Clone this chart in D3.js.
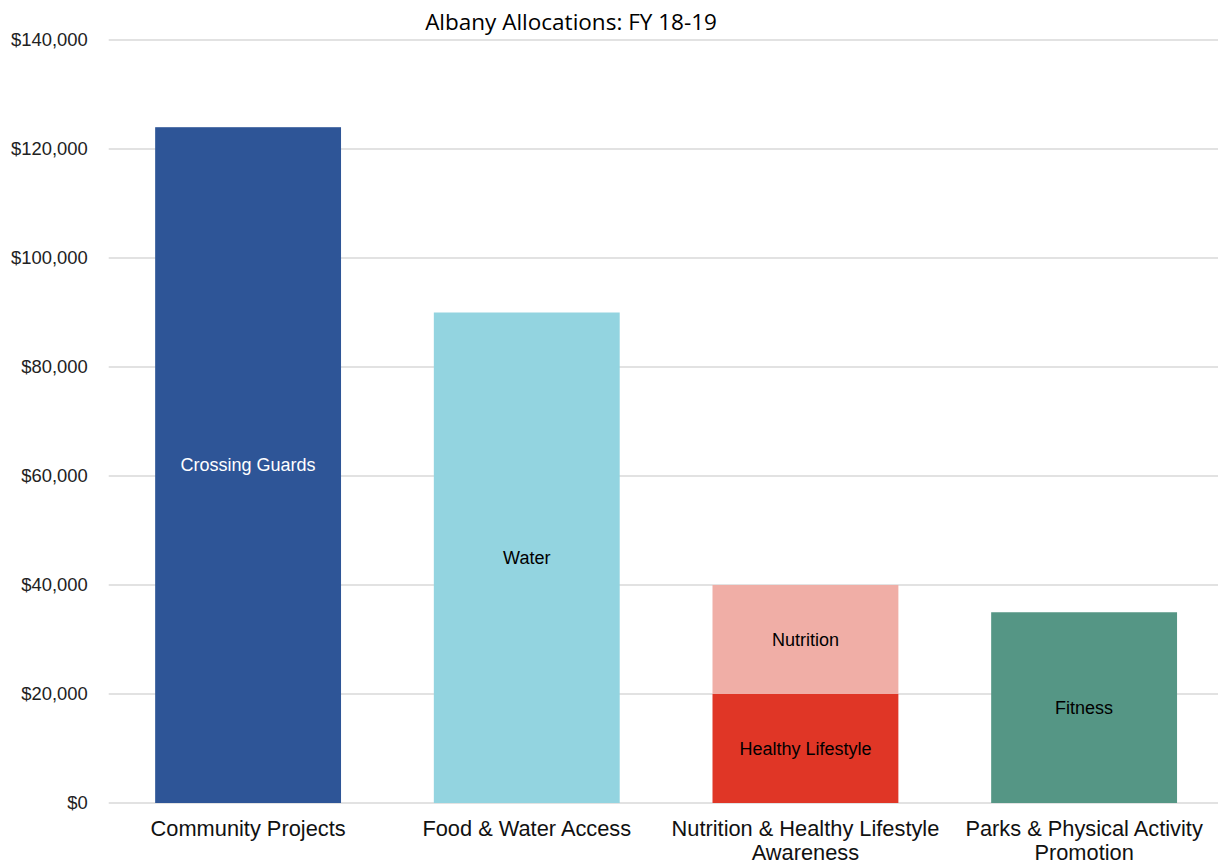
<!DOCTYPE html>
<html>
<head>
<meta charset="utf-8">
<script src="https://cdn.jsdelivr.net/npm/d3@7"></script>
<style>
  html, body { margin: 0; padding: 0; background: #fff; }
  svg { display: block; }
</style>
</head>
<body>
<svg id="chart" width="1218" height="865"></svg>
<script>
// Allocation data, one entry per bar segment
const categories = [
  "Community Projects",
  "Food & Water Access",
  "Nutrition & Healthy Lifestyle Awareness",
  "Parks & Physical Activity Promotion"
];
const segmentNames = ["Crossing Guards", "Water", "Healthy Lifestyle", "Nutrition", "Fitness"];
const segmentCategory = [0, 1, 2, 2, 3];
const segmentValues = [124000, 90000, 20000, 20000, 35000];
const segmentColors = ["#2E5597", "#93D4E0", "#E03626", "#F0AEA6", "#559685"];
const segmentTextColors = ["#ffffff", "#000000", "#000000", "#000000", "#000000"];
const yTicks = [0, 20000, 40000, 60000, 80000, 100000, 120000, 140000];

const svg = d3.select("#chart");
const W = 1218, H = 865;
const plot = { left: 108.7, right: 1223.5, top: 40, bottom: 803 };

const x = d3.scaleBand()
  .domain(categories)
  .range([plot.left, plot.right])
  .paddingInner(0.333)
  .paddingOuter(0.1667);

const y = d3.scaleLinear()
  .domain([0, 140000])
  .range([plot.bottom, plot.top]);

// Title
svg.append("text")
  .attr("x", 571)
  .attr("y", 30)
  .attr("text-anchor", "middle")
  .style("font-family", "'Open Sans', sans-serif")
  .style("font-size", "22.5px")
  .style("fill", "#000")
  .text("Albany Allocations: FY 18-19");

// Gridlines
svg.append("g")
  .selectAll("line")
  .data(yTicks)
  .join("line")
  .attr("x1", plot.left)
  .attr("x2", W)
  .attr("y1", d => y(d))
  .attr("y2", d => y(d))
  .attr("stroke", "#d9d9d9")
  .attr("stroke-width", 1.5);

// Y axis
const yAxis = svg.append("g")
  .attr("transform", `translate(${plot.left},0)`)
  .call(d3.axisLeft(y).tickValues(yTicks).tickSize(0).tickPadding(21)
    .tickFormat(d => "$" + d3.format(",")(d)));
yAxis.select(".domain").remove();
yAxis.selectAll("text")
  .style("font-family", "'Liberation Sans', Arial, sans-serif")
  .style("font-size", "18.4px")
  .style("fill", "#222");

// Stacked segments
const offsets = categories.map(() => 0);
const segments = segmentValues.map((v, i) => {
  const c = segmentCategory[i];
  const y0 = offsets[c];
  offsets[c] += v;
  return { name: segmentNames[i], cat: categories[c], y0, y1: y0 + v,
           color: segmentColors[i], textColor: segmentTextColors[i] };
});

svg.append("g")
  .selectAll("rect")
  .data(segments)
  .join("rect")
  .attr("x", d => x(d.cat))
  .attr("width", x.bandwidth())
  .attr("y", d => y(d.y1))
  .attr("height", d => y(d.y0) - y(d.y1))
  .attr("fill", d => d.color);

svg.append("g")
  .selectAll("text")
  .data(segments)
  .join("text")
  .attr("x", d => x(d.cat) + x.bandwidth() / 2)
  .attr("y", d => (y(d.y0) + y(d.y1)) / 2)
  .attr("dy", "0.35em")
  .attr("text-anchor", "middle")
  .style("font-family", "'Liberation Sans', Arial, sans-serif")
  .style("font-size", "18px")
  .style("fill", d => d.textColor)
  .text(d => d.name);

// Category axis with wrapped labels
const xAxis = svg.append("g")
  .attr("transform", `translate(0,${plot.bottom})`)
  .call(d3.axisBottom(x).tickSize(0).tickPadding(0));
xAxis.select(".domain").remove();
xAxis.selectAll("text").remove();

function wrapWords(str, maxWidth, measure) {
  const words = str.split(" ");
  const lines = [];
  let cur = "";
  words.forEach(w => {
    const t = cur ? cur + " " + w : w;
    if (cur && measure(t) > maxWidth) { lines.push(cur); cur = w; }
    else cur = t;
  });
  if (cur) lines.push(cur);
  return lines;
}

const labelFont = "21.8px";
const measurer = svg.append("text")
  .style("font-family", "'Liberation Sans', Arial, sans-serif")
  .style("font-size", labelFont)
  .attr("visibility", "hidden");
const measure = s => { measurer.text(s); return measurer.node().getComputedTextLength(); };

xAxis.selectAll(".tick").each(function(d) {
  const lines = wrapWords(d, 275, measure);
  const t = d3.select(this).append("text")
    .attr("text-anchor", "middle")
    .attr("y", 33)
    .style("font-family", "'Liberation Sans', Arial, sans-serif")
    .style("font-size", labelFont)
    .style("fill", "#111");
  lines.forEach((ln, i) => {
    t.append("tspan").attr("x", 0).attr("dy", i === 0 ? 0 : 23.5).text(ln);
  });
});
measurer.remove();
</script>
</body>
</html>
